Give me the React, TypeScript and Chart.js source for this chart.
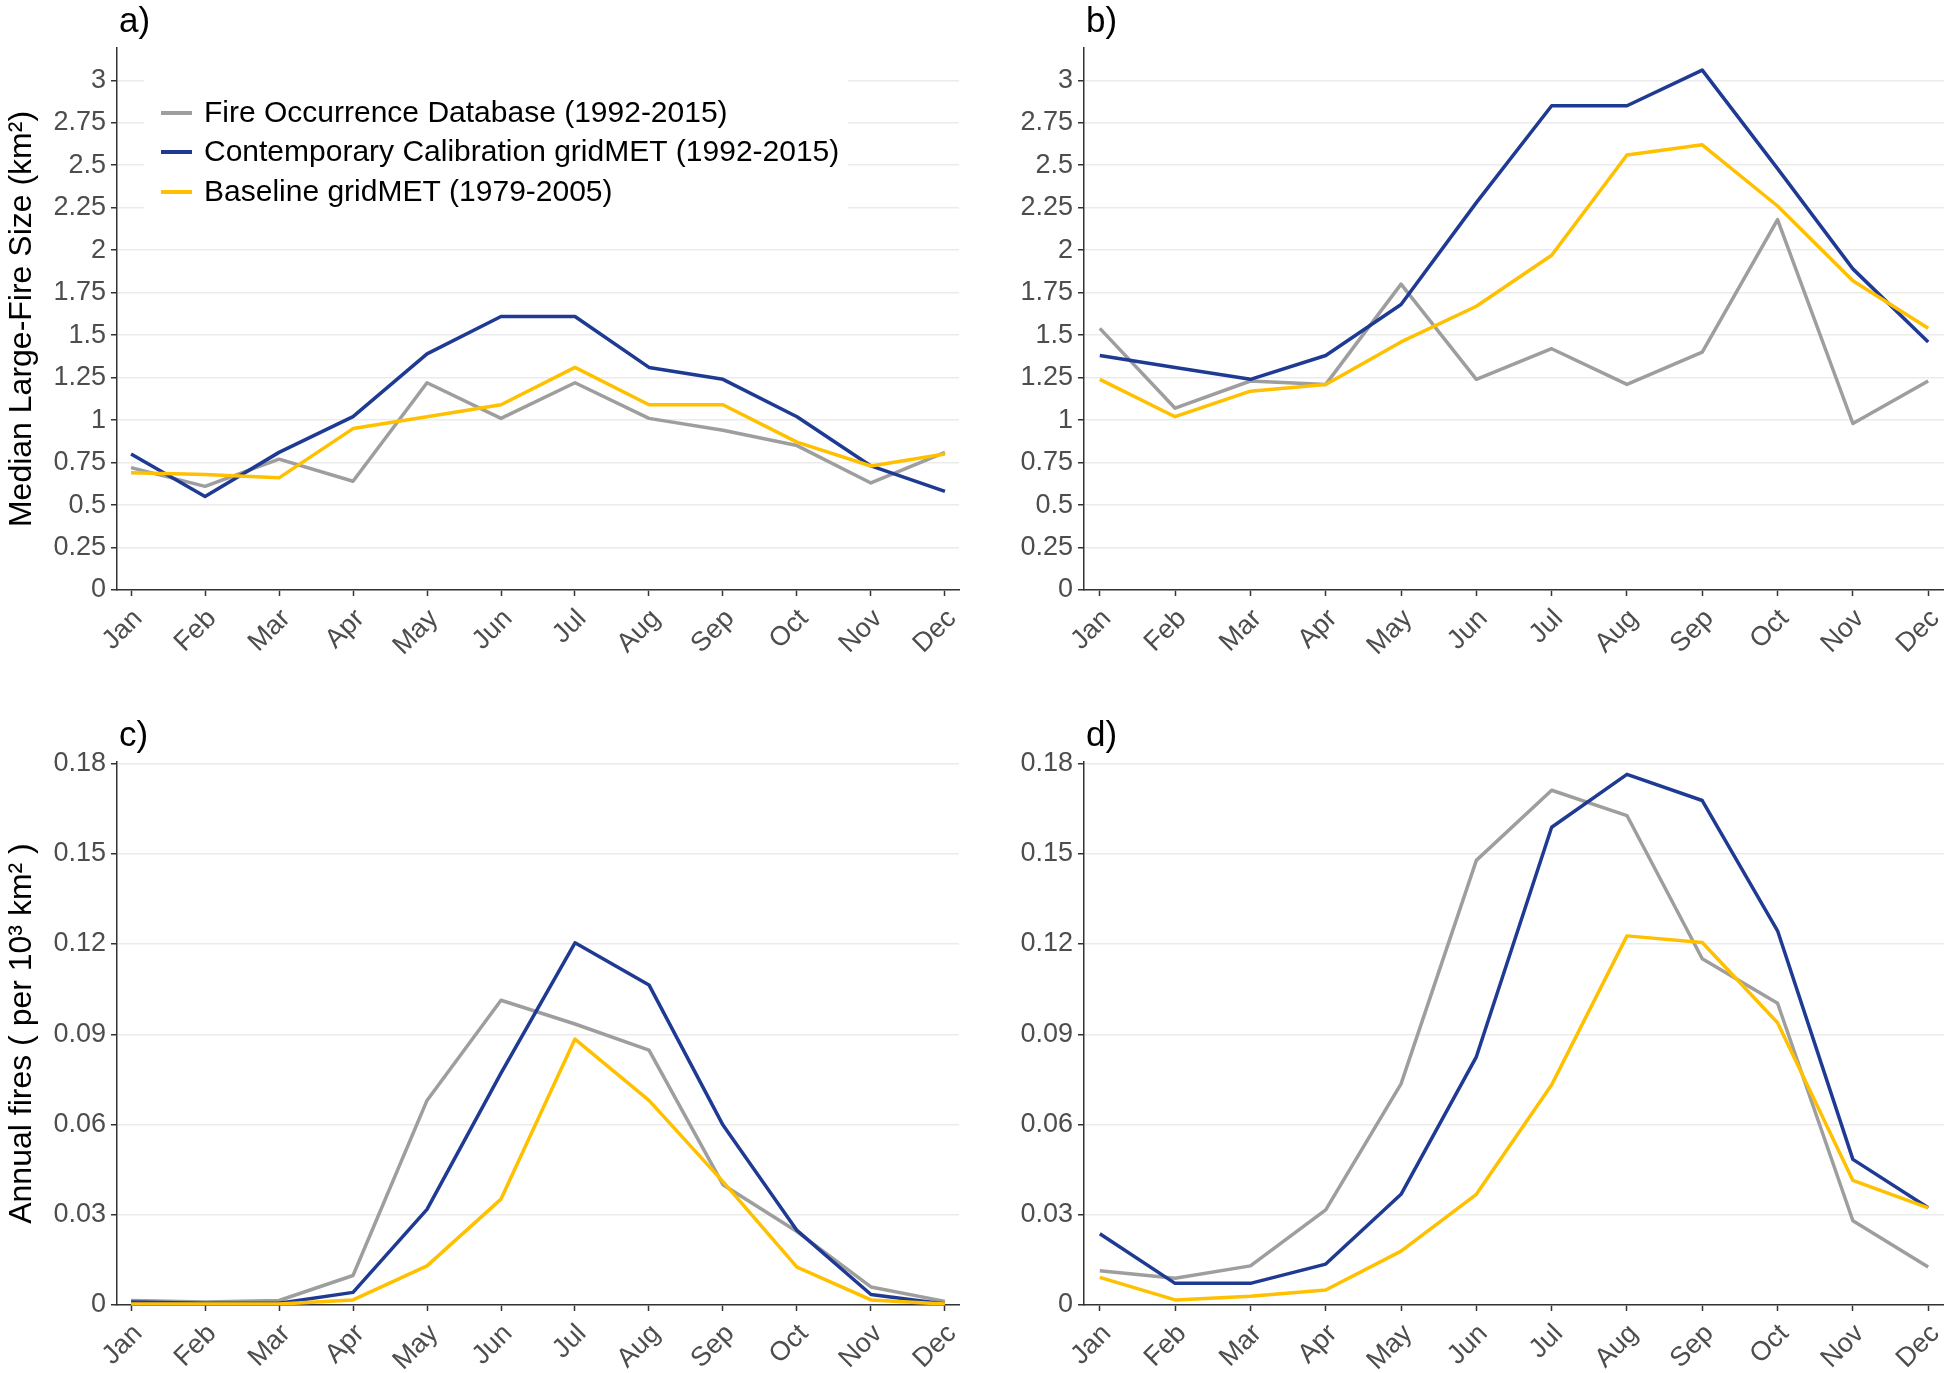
import React, { useEffect, useRef } from 'react';
import { Chart, registerables } from 'chart.js';

Chart.register(...registerables);

const MONTHS = ['Jan', 'Feb', 'Mar', 'Apr', 'May', 'Jun', 'Jul', 'Aug', 'Sep', 'Oct', 'Nov', 'Dec'];
const SERIES_LABELS = [
  'Fire Occurrence Database (1992-2015)',
  'Contemporary Calibration gridMET (1992-2015)',
  'Baseline gridMET (1979-2005)',
];
const SERIES_COLORS = ['#9E9E9E', '#1F3A93', '#FFC000'];

const SIZE_TICKS = [0, 0.25, 0.5, 0.75, 1, 1.25, 1.5, 1.75, 2, 2.25, 2.5, 2.75, 3];
const FIRE_TICKS = [0, 0.03, 0.06, 0.09, 0.12, 0.15, 0.18];

// Panel a) median large-fire size, region 1
const A_FOD = [0.72, 0.61, 0.77, 0.64, 1.22, 1.01, 1.22, 1.01, 0.94, 0.85, 0.63, 0.81];
const A_CONTEMP = [0.80, 0.55, 0.81, 1.02, 1.39, 1.61, 1.61, 1.31, 1.24, 1.02, 0.73, 0.58];
const A_BASELINE = [0.69, 0.68, 0.66, 0.95, 1.02, 1.09, 1.31, 1.09, 1.09, 0.87, 0.73, 0.80];

// Panel b) median large-fire size, region 2
const B_FOD = [1.54, 1.07, 1.23, 1.21, 1.80, 1.24, 1.42, 1.21, 1.40, 2.18, 0.98, 1.23];
const B_CONTEMP = [1.38, 1.31, 1.24, 1.38, 1.68, 2.28, 2.85, 2.85, 3.06, 2.48, 1.89, 1.46];
const B_BASELINE = [1.24, 1.02, 1.17, 1.21, 1.46, 1.67, 1.97, 2.56, 2.62, 2.26, 1.82, 1.54];

// Panel c) annual fires, region 1
const C_FOD = [0.0015, 0.001, 0.0015, 0.0098, 0.068, 0.1013, 0.0934, 0.0847, 0.040, 0.0244, 0.006, 0.0012];
const C_CONTEMP = [0.001, 0.0006, 0.0006, 0.0042, 0.0318, 0.0771, 0.1204, 0.1064, 0.0598, 0.0248, 0.0035, 0.0003];
const C_BASELINE = [0.0003, 0.0003, 0.0003, 0.0017, 0.013, 0.0352, 0.0884, 0.068, 0.041, 0.0126, 0.0017, 0.0003];

// Panel d) annual fires, region 2
const D_FOD = [0.0114, 0.0089, 0.013, 0.0316, 0.0735, 0.1478, 0.1711, 0.1627, 0.1151, 0.1003, 0.028, 0.0126];
const D_CONTEMP = [0.0237, 0.0072, 0.0072, 0.0136, 0.0368, 0.0825, 0.1588, 0.1764, 0.1677, 0.1244, 0.0484, 0.0323];
const D_BASELINE = [0.0092, 0.0017, 0.0029, 0.005, 0.0179, 0.0368, 0.0732, 0.1227, 0.1205, 0.0938, 0.0414, 0.0323];

const FONT = '"Liberation Sans", Arial, Helvetica, sans-serif';

type Panel = {
  letter: string;
  left: number;
  top: number;
  width: number;
  height: number;
  yWidth: number;
  padTop: number;
  padRight: number;
  xHeight: number;
  xPad: number;
  yMax: number;
  yTicks: number[];
  yTitle: string;
  series: number[][];
  legend: boolean;
  fmt: (v: number) => string;
};

const fmtSize = (v: number) => String(+v.toFixed(2));
const fmtFire = (v: number) => (v === 0 ? '0' : v.toFixed(2));

const PANELS: Panel[] = [
  {
    letter: 'a)', left: 0, top: 0, width: 970, height: 690, yWidth: 117, padTop: 48, padRight: 11,
    xHeight: 100, xPad: 0.19, yMax: 3.19, yTicks: SIZE_TICKS,
    yTitle: 'Median Large-Fire Size (km²)', series: [A_FOD, A_CONTEMP, A_BASELINE], legend: true, fmt: fmtSize,
  },
  {
    letter: 'b)', left: 970, top: 0, width: 974, height: 690, yWidth: 114, padTop: 48, padRight: 0,
    xHeight: 100, xPad: 0.21, yMax: 3.19, yTicks: SIZE_TICKS,
    yTitle: '', series: [B_FOD, B_CONTEMP, B_BASELINE], legend: false, fmt: fmtSize,
  },
  {
    letter: 'c)', left: 0, top: 690, width: 970, height: 683, yWidth: 117, padTop: 72, padRight: 11,
    xHeight: 68, xPad: 0.19, yMax: 0.1805, yTicks: FIRE_TICKS,
    yTitle: 'Annual fires ( per 10³ km² )', series: [C_FOD, C_CONTEMP, C_BASELINE], legend: false, fmt: fmtFire,
  },
  {
    letter: 'd)', left: 970, top: 690, width: 974, height: 683, yWidth: 114, padTop: 72, padRight: 0,
    xHeight: 68, xPad: 0.21, yMax: 0.1805, yTicks: FIRE_TICKS,
    yTitle: '', series: [D_FOD, D_CONTEMP, D_BASELINE], legend: false, fmt: fmtFire,
  },
];

function decorPlugin(p: Panel) {
  return {
    id: 'decor' + p.letter,
    beforeDatasetsDraw(chart: any) {
      const ctx = chart.ctx;
      const area = chart.chartArea;
      ctx.save();
      if (p.legend) {
        ctx.fillStyle = '#FFFFFF';
        ctx.fillRect(area.left + 27, area.top + 16, 704, 166);
        const rows = [113, 152, 192];
        rows.forEach((y, i) => {
          ctx.strokeStyle = SERIES_COLORS[i];
          ctx.lineWidth = 4;
          ctx.beginPath();
          ctx.moveTo(area.left + 44, y);
          ctx.lineTo(area.left + 75, y);
          ctx.stroke();
          ctx.fillStyle = '#000000';
          ctx.font = '30px ' + FONT;
          ctx.textBaseline = 'middle';
          ctx.textAlign = 'left';
          ctx.fillText(SERIES_LABELS[i], area.left + 87, y + 1);
        });
      }
      ctx.restore();
    },
    afterDraw(chart: any) {
      const ctx = chart.ctx;
      const area = chart.chartArea;
      ctx.save();
      ctx.fillStyle = '#000000';
      ctx.font = '35px ' + FONT;
      ctx.textBaseline = 'alphabetic';
      ctx.textAlign = 'left';
      ctx.fillText(p.letter, area.left + 2, area.top - 16);
      ctx.restore();
    },
  };
}

function makeConfig(p: Panel): any {
  const datasets = p.series.map((vals, i) => ({
    label: SERIES_LABELS[i],
    data: vals.map((v, j) => ({ x: j, y: v })),
    borderColor: SERIES_COLORS[i],
    backgroundColor: SERIES_COLORS[i],
    borderWidth: 3.5,
    pointRadius: 0,
    tension: 0,
    fill: false,
    borderJoinStyle: 'round',
    order: 2 - i,
  }));
  return {
    type: 'line',
    data: { datasets },
    plugins: [decorPlugin(p)],
    options: {
      responsive: false,
      animation: false,
      devicePixelRatio: 1,
      layout: { padding: { left: 0, top: p.padTop, right: p.padRight, bottom: 0 } },
      plugins: { legend: { display: false }, tooltip: { enabled: false }, title: { display: false } },
      scales: {
        x: {
          type: 'linear',
          min: -p.xPad,
          max: MONTHS.length - 1 + p.xPad,
          afterBuildTicks: (s: any) => {
            s.ticks = MONTHS.map((_, i) => ({ value: i }));
          },
          afterFit: (s: any) => {
            s.height = p.xHeight;
            s.paddingLeft = 0;
            s.paddingRight = 0;
          },
          ticks: {
            autoSkip: false,
            maxRotation: 45,
            minRotation: 45,
            padding: 7,
            labelOffset: 7,
            color: '#4D4D4D',
            font: { family: FONT, size: 27 },
            callback: (v: number) => MONTHS[Math.round(v)],
          },
          grid: {
            drawOnChartArea: false,
            drawTicks: true,
            tickLength: 6,
            tickColor: '#333333',
            tickWidth: 1.5,
          },
          border: { display: true, color: '#333333', width: 1.5 },
        },
        y: {
          type: 'linear',
          min: 0,
          max: p.yMax,
          afterBuildTicks: (s: any) => {
            s.ticks = p.yTicks.map((v) => ({ value: v }));
          },
          afterFit: (s: any) => {
            s.width = p.yWidth;
            s.paddingTop = 0;
            s.paddingBottom = 0;
          },
          ticks: {
            padding: 5,
            color: '#4D4D4D',
            font: { family: FONT, size: 27 },
            callback: (v: number) => p.fmt(v),
          },
          grid: {
            drawOnChartArea: true,
            color: '#EBEBEB',
            lineWidth: 1.5,
            drawTicks: true,
            tickLength: 6,
            tickColor: '#333333',
            tickWidth: 1.5,
          },
          border: { display: true, color: '#333333', width: 1.5 },
          title: {
            display: p.yTitle !== '',
            text: p.yTitle,
            color: '#000000',
            font: { family: FONT, size: 32 },
            padding: { top: 3, bottom: 0 },
          },
        },
      },
    },
  };
}

function PanelChart({ p }: { p: Panel }) {
  const ref = useRef<HTMLCanvasElement | null>(null);
  useEffect(() => {
    if (!ref.current) return;
    const chart = new Chart(ref.current, makeConfig(p));
    return () => chart.destroy();
  }, [p]);
  return (
    <canvas
      ref={ref}
      width={p.width}
      height={p.height}
      style={{ position: 'absolute', left: p.left, top: p.top, width: p.width, height: p.height }}
    />
  );
}

export default function App() {
  useEffect(() => {
    document.body.style.margin = '0';
    document.body.style.background = '#FFFFFF';
  }, []);
  return (
    <div style={{ position: 'relative', width: 1944, height: 1373, background: '#FFFFFF', overflow: 'hidden' }}>
      {PANELS.map((p) => (
        <PanelChart key={p.letter} p={p} />
      ))}
    </div>
  );
}
